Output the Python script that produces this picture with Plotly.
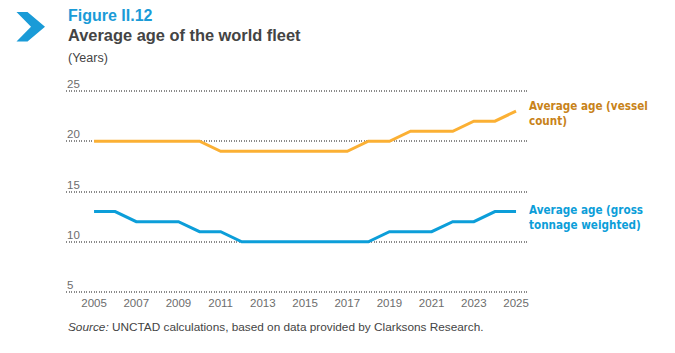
import plotly.graph_objects as go

years = list(range(2005, 2026))
vessel_count = [20, 20, 20, 20, 20, 20, 19, 19, 19, 19, 19, 19, 19, 20, 20, 21, 21, 21, 22, 22, 23]
gross_tonnage = [13, 13, 12, 12, 12, 11, 11, 10, 10, 10, 10, 10, 10, 10, 11, 11, 11, 12, 12, 13, 13]
y_ticks = [5, 10, 15, 20, 25]
x_ticks = list(range(2005, 2026, 2))

ORANGE = "#FBB034"
ORANGE_TXT = "#C8831A"
BLUE = "#0C9ED9"
BLUE_TXT = "#0C9ED9"
TITLE_FONT = "Liberation Sans, Arial, sans-serif"
LBL_FONT = "Liberation Sans Narrow, DejaVu Sans Condensed, Liberation Sans, sans-serif"

W, H = 675, 353
L, R, T, B = 66, 148, 81, 51
Y0, Y1 = 4.0, 26.0

fig = go.Figure()
fig.add_trace(go.Scatter(x=years, y=vessel_count, mode="lines",
                         line=dict(color=ORANGE, width=3), hoverinfo="skip"))
fig.add_trace(go.Scatter(x=years, y=gross_tonnage, mode="lines",
                         line=dict(color=BLUE, width=3), hoverinfo="skip"))

def px_x(p):
    return (p - L) / (W - L - R)

def px_y(p):
    return 1 - (p - T) / (H - T - B)

def val_to_paper(v):
    return (v - Y0) / (Y1 - Y0)

annotations = []
for v in y_ticks:
    annotations.append(dict(x=0, xref="paper", y=v, yref="y", text=str(v),
                            showarrow=False, xanchor="left", yanchor="bottom",
                            xshift=-1, yshift=-1,
                            font=dict(family=TITLE_FONT, size=11.5, color="#6d6d6d")))

# series labels
annotations.append(dict(x=px_x(527), xref="paper", y=val_to_paper(vessel_count[-1]), yref="paper",
                        text="<b>Average age (vessel<br>count)</b>", showarrow=False,
                        xanchor="left", yanchor="middle", align="left", yshift=-2,
                        font=dict(family=LBL_FONT, size=11.6, color=ORANGE_TXT)))
annotations.append(dict(x=px_x(527), xref="paper", y=val_to_paper(gross_tonnage[-1]), yref="paper",
                        text="<b>Average age (gross<br>tonnage weighted)</b>", showarrow=False,
                        xanchor="left", yanchor="middle", align="left", yshift=-6,
                        font=dict(family=LBL_FONT, size=11.6, color=BLUE_TXT)))

annotations.append(dict(x=px_x(66), xref="paper", y=px_y(26), yref="paper",
                        text="<b>Figure II.12</b>", showarrow=False,
                        xanchor="left", yanchor="bottom",
                        font=dict(family=TITLE_FONT, size=16, color="#1A9BD7")))
annotations.append(dict(x=px_x(66), xref="paper", y=px_y(46), yref="paper",
                        text="<b>Average age of the world fleet</b>", showarrow=False,
                        xanchor="left", yanchor="bottom",
                        font=dict(family=TITLE_FONT, size=16.4, color="#444444")))
annotations.append(dict(x=px_x(66), xref="paper", y=px_y(67), yref="paper",
                        text="(Years)", showarrow=False,
                        xanchor="left", yanchor="bottom",
                        font=dict(family=TITLE_FONT, size=12.5, color="#444444")))
annotations.append(dict(x=px_x(66), xref="paper", y=px_y(336), yref="paper",
                        text="<i>Source:</i> UNCTAD calculations, based on data provided by Clarksons Research.",
                        showarrow=False, xanchor="left", yanchor="bottom",
                        font=dict(family=TITLE_FONT, size=11.8, color="#444444")))

pts = [(16.5, 12), (27.5, 12), (45, 26.7), (27.5, 41.5), (16.5, 41.5), (31, 26.7)]
path = "M " + " L ".join(f"{px_x(x)},{px_y(y)}" for x, y in pts) + " Z"
shapes = [dict(type="path", xref="paper", yref="paper", path=path,
               fillcolor="#1A9BD7", line=dict(width=0))]

fig.update_layout(
    width=W, height=H,
    margin=dict(l=L, r=R, t=T, b=B),
    paper_bgcolor="white", plot_bgcolor="white",
    showlegend=False,
    annotations=annotations,
    shapes=shapes,
    xaxis=dict(range=[2003.67, 2025.52], tickvals=x_ticks, showgrid=False,
               anchor="free", position=val_to_paper(5),
               zeroline=False, showline=False, ticks="", ticklabelstandoff=3,
               tickfont=dict(family=TITLE_FONT, size=11.5, color="#6d6d6d")),
    yaxis=dict(range=[Y0, Y1], tickvals=y_ticks, showticklabels=False,
               showgrid=True, gridcolor="#8a8a8a", griddash="1.2px,1.3px", gridwidth=1.6,
               zeroline=False, showline=False, ticks=""),
)

fig.write_html("out.html")
